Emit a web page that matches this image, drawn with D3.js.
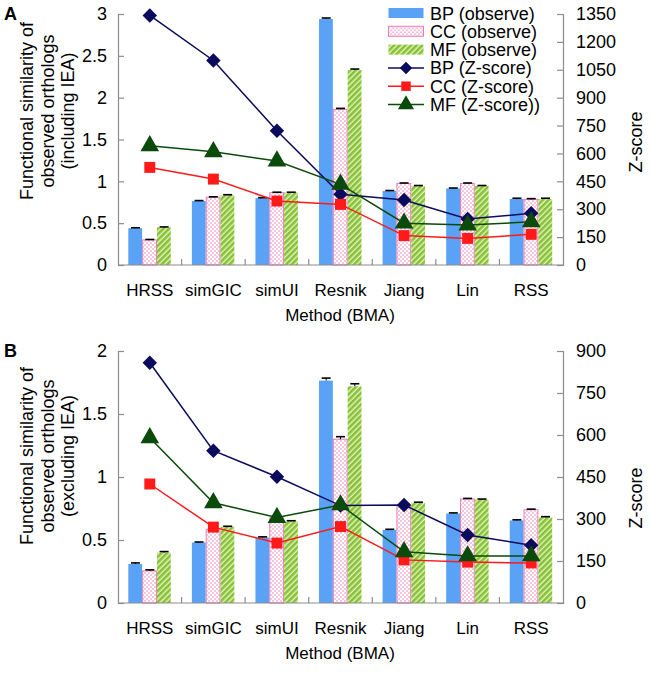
<!DOCTYPE html>
<html>
<head>
<meta charset="utf-8">
<script src="https://cdn.jsdelivr.net/npm/d3@7"></script>
<style>
  body { margin: 0; background: #fff; }
  svg { display: block; font-family: "Liberation Sans", Arial, sans-serif; }
</style>
</head>
<body>
<svg width="650" height="676"></svg>
<script>
// categories and series
const methods = ['HRSS', 'simGIC', 'simUI', 'Resnik', 'Jiang', 'Lin', 'RSS'];
const seriesNames = ['BP', 'CC', 'MF'];

// panel A (including IEA)
const obsA_BP = [0.44, 0.765, 0.80, 2.94, 0.885, 0.915, 0.79];
const obsA_CC = [0.30, 0.81, 0.865, 1.86, 0.975, 0.975, 0.785];
const obsA_MF = [0.45, 0.835, 0.865, 2.33, 0.945, 0.945, 0.79];
const zA_BP = [1342, 1100, 722, 380, 350, 247, 278];
const zA_CC = [525, 462, 344, 326, 158, 143, 165];
const zA_MF = [641, 609, 559, 434, 225, 215, 232];

// panel B (excluding IEA)
const obsB_BP = [0.31, 0.48, 0.52, 1.765, 0.58, 0.71, 0.655];
const obsB_CC = [0.255, 0.585, 0.675, 1.30, 0.765, 0.825, 0.74];
const obsB_MF = [0.40, 0.605, 0.648, 1.72, 0.795, 0.82, 0.68];
const zB_BP = [858, 544, 451, 348, 350, 243, 206];
const zB_CC = [425, 271, 214, 273, 154, 146, 143];
const zB_MF = [590, 358, 305, 350, 183, 168, 168];

// small error bars
const errA = [0.005, 0.005, 0.005, 0.012, 0.005, 0.005, 0.008];
const errB = [0.008, 0.004, 0.005, 0.02, 0.005, 0.005, 0.005];

const leftTicksA = [0, 0.5, 1, 1.5, 2, 2.5, 3];
const rightTicksA = [0, 150, 300, 450, 600, 750, 900, 1050, 1200, 1350];
const leftTicksB = [0, 0.5, 1, 1.5, 2];
const rightTicksB = [0, 150, 300, 450, 600, 750, 900];

const legendLabels = ['BP (observe)', 'CC (observe)', 'MF (observe)',
  'BP (Z-score)', 'CC (Z-score)', 'MF (Z-score))'];

const svg = d3.select('svg');
const axisColor = '#8c8c8c';
const fontSize = 17;
const tickFont = 18;

// patterns
const defs = svg.append('defs');
const dots = defs.append('pattern')
  .attr('id', 'dots').attr('patternUnits', 'userSpaceOnUse')
  .attr('width', 4).attr('height', 4);
dots.append('rect').attr('width', 4).attr('height', 4).attr('fill', '#fff');
dots.append('circle').attr('cx', 1).attr('cy', 1).attr('r', 0.75).attr('fill', '#ee6fb0');
dots.append('circle').attr('cx', 3).attr('cy', 3).attr('r', 0.75).attr('fill', '#ee6fb0');

const stripes = defs.append('pattern')
  .attr('id', 'stripes').attr('patternUnits', 'userSpaceOnUse')
  .attr('width', 4).attr('height', 4)
  .attr('patternTransform', 'rotate(45)');
stripes.append('rect').attr('width', 4).attr('height', 4).attr('fill', '#e4f2c8');
stripes.append('rect').attr('width', 2.6).attr('height', 4).attr('fill', '#86c232');

const barFill = { BP: '#5aa2f5', CC: 'url(#dots)', MF: 'url(#stripes)' };
const barStroke = { BP: 'none', CC: '#f07ab8', MF: 'none' };
const lineColor = { BP: '#0b0b5e', CC: '#ff1a1a', MF: '#0a4a0a' };
const markerType = { BP: d3.symbolSquare, CC: d3.symbolSquare, MF: d3.symbolTriangle };
const markerSize = { BP: 105, CC: 120, MF: 150 };
const markerRot = { BP: 45, CC: 0, MF: 0 };

function drawPanel(cfg) {
  const g = svg.append('g');
  const x = d3.scaleBand().domain(methods).range([118, 563]);
  const xs = d3.scaleBand().domain(seriesNames).range([0, x.bandwidth()]).paddingOuter(0.72);
  const yL = d3.scaleLinear().domain([0, cfg.leftMax]).range([cfg.bottom, cfg.top]);
  const yR = d3.scaleLinear().domain([0, cfg.rightMax]).range([cfg.bottom, cfg.top]);

  // bars
  seriesNames.forEach((s, si) => {
    const vals = cfg.obs[si];
    g.selectAll('.bar' + s).data(methods).enter().append('rect')
      .attr('x', (d) => x(d) + xs(s))
      .attr('y', (d, i) => yL(vals[i]))
      .attr('width', xs.bandwidth() - 0.5)
      .attr('height', (d, i) => cfg.bottom - yL(vals[i]))
      .attr('fill', barFill[s])
      .attr('stroke', barStroke[s])
      .attr('stroke-width', 1);
    // error bars
    g.selectAll('.err' + s).data(methods).enter().append('line')
      .attr('x1', (d) => x(d) + xs(s) + xs.bandwidth() / 2)
      .attr('x2', (d) => x(d) + xs(s) + xs.bandwidth() / 2)
      .attr('y1', (d, i) => yL(vals[i]))
      .attr('y2', (d, i) => yL(vals[i] + cfg.err[i]))
      .attr('stroke', '#000').attr('stroke-width', 1);
    g.selectAll('.cap' + s).data(methods).enter().append('line')
      .attr('x1', (d) => x(d) + xs(s) + xs.bandwidth() / 2 - 4.5)
      .attr('x2', (d) => x(d) + xs(s) + xs.bandwidth() / 2 + 4.5)
      .attr('y1', (d, i) => yL(vals[i] + cfg.err[i]))
      .attr('y2', (d, i) => yL(vals[i] + cfg.err[i]))
      .attr('stroke', '#000').attr('stroke-width', 1.6);
  });

  // axes
  const axL = g.append('g').attr('transform', 'translate(118,0)')
    .call(d3.axisLeft(yL).tickValues(cfg.leftTicks).tickSize(-6).tickPadding(11).tickFormat(d3.format('')));
  const axR = g.append('g').attr('transform', 'translate(563,0)')
    .call(d3.axisRight(yR).tickValues(cfg.rightTicks).tickSize(-6).tickPadding(13).tickFormat(d3.format('')));
  const axB = g.append('g').attr('transform', `translate(0,${cfg.bottom})`)
    .call(d3.axisBottom(x).tickSize(0).tickPadding(19));
  [axL, axR, axB].forEach((a) => {
    a.select('.domain').attr('stroke', axisColor).attr('stroke-width', 1.2);
    a.selectAll('.tick line').attr('stroke', axisColor).attr('stroke-width', 1.2);
    a.selectAll('text').attr('font-size', tickFont).attr('fill', '#000')
      .attr('font-family', '"Liberation Sans", Arial, sans-serif');
  });
  axB.selectAll('text').attr('font-size', fontSize);
  axB.select('.domain').attr('d', `M118,0H563`);
  // group separator ticks
  g.selectAll('.sep').data(methods.slice(1)).enter().append('line')
    .attr('x1', (d) => x(d)).attr('x2', (d) => x(d))
    .attr('y1', cfg.bottom).attr('y2', cfg.bottom - 6)
    .attr('stroke', axisColor).attr('stroke-width', 1.2);

  // z-score lines
  seriesNames.forEach((s, si) => {
    const vals = cfg.z[si];
    const line = d3.line().x((d) => x(d) + x.bandwidth() / 2).y((d, i) => yR(vals[i]));
    g.append('path').datum(methods).attr('d', line)
      .attr('fill', 'none').attr('stroke', lineColor[s]).attr('stroke-width', 1.5);
    g.selectAll('.mk' + s).data(methods).enter().append('path')
      .attr('d', d3.symbol().type(markerType[s]).size(markerSize[s]))
      .attr('transform', (d, i) => `translate(${x(d) + x.bandwidth() / 2},${yR(vals[i])}) rotate(${markerRot[s]})`)
      .attr('fill', lineColor[s]);
  });

  // axis titles
  g.append('text').attr('x', 340).attr('y', cfg.bottom + 56)
    .attr('text-anchor', 'middle').attr('font-size', fontSize).text('Method (BMA)');
  cfg.leftTitle.forEach((t, i) => {
    g.append('text')
      .attr('transform', `translate(${33 + i * 20.5},${cfg.leftTitleY}) rotate(-90)`)
      .attr('text-anchor', 'middle').attr('font-size', 18).text(t);
  });
  g.append('text')
    .attr('transform', `translate(642,${cfg.rightTitleY}) rotate(-90)`)
    .attr('text-anchor', 'middle').attr('font-size', 18).text('Z-score');
  g.append('text').attr('x', 4).attr('y', cfg.top + 6)
    .attr('font-size', 18).attr('font-weight', 'bold').text(cfg.label);
}

drawPanel({
  label: 'A', top: 14, bottom: 265, leftMax: 3, rightMax: 1350,
  leftTicks: leftTicksA, rightTicks: rightTicksA,
  obs: [obsA_BP, obsA_CC, obsA_MF], z: [zA_BP, zA_CC, zA_MF], err: errA,
  leftTitle: ['Functional similarity of', 'observed orthologs', '(including IEA)'],
  leftTitleY: 111, rightTitleY: 142
});
drawPanel({
  label: 'B', top: 351, bottom: 603, leftMax: 2, rightMax: 900,
  leftTicks: leftTicksB, rightTicks: rightTicksB,
  obs: [obsB_BP, obsB_CC, obsB_MF], z: [zB_BP, zB_CC, zB_MF], err: errB,
  leftTitle: ['Functional similarity of', 'observed orthologs', '(excluding IEA)'],
  leftTitleY: 456, rightTitleY: 498
});

// legend (inside panel A)
const leg = svg.append('g').attr('transform', 'translate(388,13)');
legendLabels.forEach((t, i) => {
  const row = leg.append('g').attr('transform', `translate(0,${i * 18.3})`);
  if (i < 3) {
    const s = seriesNames[i];
    row.append('rect').attr('x', 0.5).attr('y', -5).attr('width', 35).attr('height', 10)
      .attr('fill', barFill[s]).attr('stroke', barStroke[s]);
  } else {
    const s = seriesNames[i - 3];
    row.append('line').attr('x1', 0).attr('x2', 36).attr('y1', 0).attr('y2', 0)
      .attr('stroke', lineColor[s]).attr('stroke-width', 1.5);
    row.append('path').attr('d', d3.symbol().type(markerType[s]).size(markerSize[s] * 0.75))
      .attr('transform', `translate(18,0) rotate(${markerRot[s]})`).attr('fill', lineColor[s]);
  }
  row.append('text').attr('x', 42).attr('y', 6.5).attr('font-size', 18).text(t);
});
</script>
</body>
</html>
